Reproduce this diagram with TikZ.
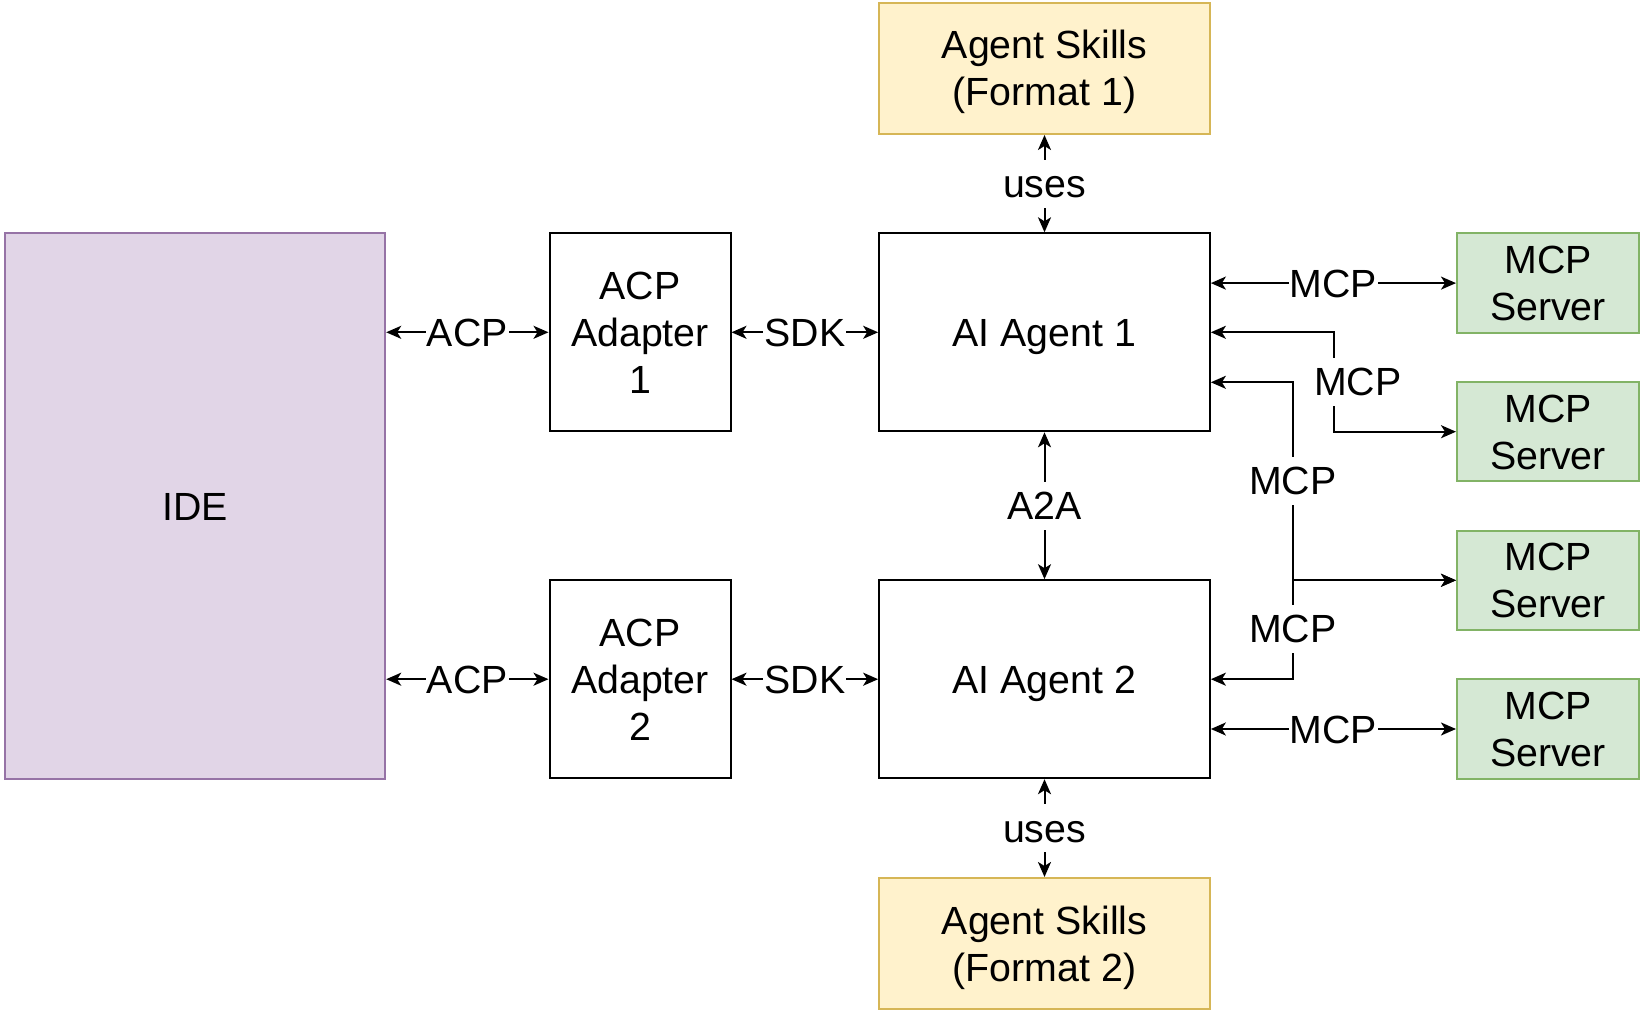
\documentclass[tikz,border=0pt]{standalone}
\usepackage{fontspec}
\setmainfont{Liberation Sans}
\usetikzlibrary{arrows.meta,calc}

\definecolor{ideFill}{HTML}{E1D5E7}
\definecolor{ideLine}{HTML}{9673A6}
\definecolor{skFill}{HTML}{FFF2CC}
\definecolor{skLine}{HTML}{D6B656}
\definecolor{srvFill}{HTML}{D5E8D4}
\definecolor{srvLine}{HTML}{82B366}

\newcommand{\bigfont}{\fontsize{39.3}{47}\selectfont}
% 撑杆：上 37pt、下 9pt，让首末行的大写字母居中
\newcommand{\capstrut}{\rule[-9pt]{0pt}{46pt}}

\tikzset{
  box/.style={draw, line width=2pt, inner sep=0pt, align=center, font=\bigfont},
  idebox/.style={box, draw=ideLine, fill=ideFill, minimum width=380pt, minimum height=545pt},
  adbox/.style={box, fill=white, minimum width=181pt, minimum height=198pt},
  agentbox/.style={box, fill=white, minimum width=330.7pt, minimum height=198pt},
  skbox/.style={box, draw=skLine, fill=skFill, minimum width=330.7pt, minimum height=131pt},
  srvbox/.style={box, draw=srvLine, fill=srvFill, minimum width=182pt, minimum height=99.4pt},
  link/.style={<->, line width=2pt},
  lbl/.style={fill=white, inner xsep=1pt, inner ysep=0pt, text height=38pt, text depth=10pt, font=\bigfont},
}

\begin{document}
\begin{tikzpicture}[x=1pt, y=-1pt, >={Stealth[length=15pt,width=13pt,inset=4pt]}]

  %% ════ 方框 ════
  \node[idebox]   (ide)  at (195.2,506.0)  {\capstrut IDE};
  \node[adbox]    (ad1)  at (640.0,332.3)  {\capstrut ACP\\Adapter\\1\capstrut};
  \node[adbox]    (ad2)  at (640.0,679.2)  {\capstrut ACP\\Adapter\\2\capstrut};
  \node[agentbox] (ag1)  at (1044.5,332.3) {\capstrut AI Agent 1};
  \node[agentbox] (ag2)  at (1044.5,679.2) {\capstrut AI Agent 2};
  \node[skbox]    (sk1)  at (1044.5,68.5)  {\capstrut Agent Skills\\(Format 1)\capstrut};
  \node[skbox]    (sk2)  at (1044.5,943.5) {\capstrut Agent Skills\\(Format 2)\capstrut};
  \node[srvbox]   (srv1) at (1548.0,283.1) {\capstrut MCP\\Server\capstrut};
  \node[srvbox]   (srv2) at (1548.0,431.7) {\capstrut MCP\\Server\capstrut};
  \node[srvbox]   (srv3) at (1548.0,580.3) {\capstrut MCP\\Server\capstrut};
  \node[srvbox]   (srv4) at (1548.0,729.0) {\capstrut MCP\\Server\capstrut};

  %% ════ 折线拐点 ════
  \coordinate (bendA) at (1333.5,382.0);
  \coordinate (bendB) at (1292.8,580.3);

  %% ════ 左侧：IDE -- 适配器 -- 代理 ════
  \draw[link] (ide.east |- ad1) -- node[lbl] (acp1) {ACP} (ad1);
  \draw[link] (ide.east |- ad2) -- node[lbl] (acp2) {ACP} (ad2);
  \draw[link] (ad1) -- node[lbl] (sdk1) {SDK} (ag1);
  \draw[link] (ad2) -- node[lbl] (sdk2) {SDK} (ag2);

  %% ════ 纵向：技能 / 代理互连 ════
  \draw[link] (sk1) -- node[lbl] (use1) {uses} (ag1);
  \draw[link] (ag1) -- node[lbl] (a2a) {A2A} (ag2);
  \draw[link] (ag2) -- node[lbl] (use2) {uses} (sk2);

  %% ════ 右侧：MCP 连线 ════
  \draw[link] (ag1.east |- srv1) -- node[lbl] (mcp1) {MCP} (srv1.west);
  \draw[link] (ag1.east) -| (bendA) |- (srv2.west);
  \draw[link] ($(ag1.north east)!.75!(ag1.south east)$) -| (bendB) -- (srv3.west);
  \draw[link] (ag2.east) -| (bendB) -- (srv3.west);
  \draw[link] (ag2.east |- srv4) -- node[lbl] (mcp5) {MCP} (srv4.west);

  % 折线上的标签后画，白底盖住线
  \node[lbl] (mcp2) at (1357.8,381.5) {MCP};
  \node[lbl] (mcp3) at (1292.8,480.5) {MCP};
  \node[lbl] (mcp4) at (1292.8,628.8) {MCP};

  % 画布尺寸
  \useasboundingbox (0,0) rectangle (1641,1011);
\end{tikzpicture}
\end{document}
